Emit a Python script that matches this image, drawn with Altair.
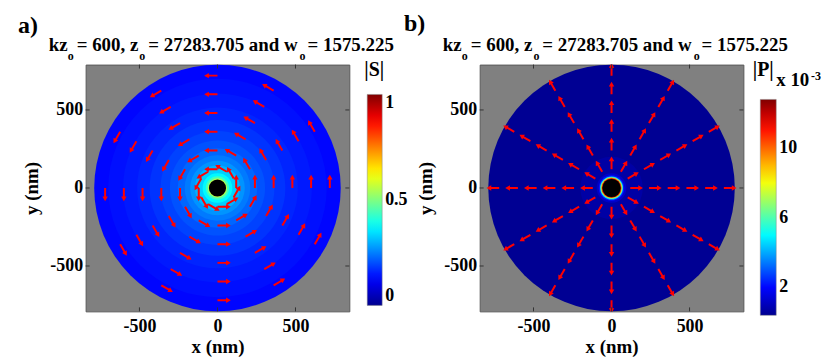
import math
import altair as alt
import pandas as pd

FONT = "Liberation Serif"

# ---------------- data ----------------
ring_radii = [120, 240, 360, 480, 600, 720]          # arrow rings (nm)
arrow_angles = [0, 30, 60, 90, 120, 150, 180, 210, 240, 270, 300, 330]  # deg
arrow_len_a = 88      # nm, tangential arrows (|S| panel)
arrow_len_b = 84      # nm, radial arrows (|P| panel)
core_radius_a = [55]  # black core (nm)
core_radius_b = [58]

# |S| panel: ring outer radius (nm) and value
s_radii = [790, 700, 605, 515, 435, 365, 305, 255, 210, 175, 145, 120, 95, 75, 62]
s_values = [0.13, 0.14, 0.15, 0.16, 0.175, 0.19, 0.205, 0.225, 0.245, 0.27, 0.30, 0.33, 0.37, 0.44, 0.55]

# |P| panel (x 1e-3)
p_radii = [790, 200, 95, 82, 74, 69, 65, 61]
p_values = [0.45, 0.7, 1.2, 2.2, 4.5, 7.0, 10.0, 12.5]

tick_values = [-500, 0, 500]
s_legend_values = [0, 0.5, 1]
p_legend_values = [2, 6, 10]
s_domain = [0, 1]
p_domain = [0.4, 12.8]

jet_fracs = [0, 0.125, 0.375, 0.625, 0.875, 1]
jet_colors = ["#00008f", "#0000ff", "#00ffff", "#ffff00", "#ff0000", "#800000"]

# ---------------- layout ----------------
W, H = 265, 248
XMAX = 845
YMAX = XMAX * H / W
PX = (W / 2) / XMAX          # px per nm
HEAD_PX = 2.8

xscale = alt.Scale(domain=[-XMAX, XMAX], nice=False, zero=False)
yscale = alt.Scale(domain=[-YMAX, YMAX], nice=False, zero=False)
rscale = alt.Scale(type="linear", domain=[0, XMAX], range=[0, W / 2], zero=True, nice=False)

xaxis = alt.Axis(values=tick_values, title="x (nm)", grid=False, ticks=False, domain=False,
                 labelExpr="'' + datum.value", labelPadding=6, titlePadding=2,
                 labelFont=FONT, labelFontSize=18, labelFontWeight="bold", labelColor="black",
                 titleFont=FONT, titleFontSize=19, titleFontWeight="bold", titleColor="black")
yaxis = alt.Axis(values=tick_values, title="y (nm)", grid=False, ticks=False, domain=False,
                 labelExpr="'' + datum.value", labelPadding=3, titlePadding=8,
                 labelFont=FONT, labelFontSize=18, labelFontWeight="bold", labelColor="black",
                 titleFont=FONT, titleFontSize=19, titleFontWeight="bold", titleColor="black")


def X(f):
    return alt.X(f, type="quantitative", scale=xscale, axis=xaxis)


def Y(f):
    return alt.Y(f, type="quantitative", scale=yscale, axis=yaxis)


def arrows(length, tangential):
    rows = []
    for r in ring_radii:
        for a in arrow_angles:
            th = math.radians(a)
            phi = th + (math.pi / 2 if tangential else 0.0)
            ux, uy = math.cos(phi), math.sin(phi)
            x0, y0 = r * math.cos(th), r * math.sin(th)
            back = HEAD_PX / PX
            rows.append(dict(
                x0=x0, y0=y0,
                x1=x0 + (length - 1.2 * back) * ux, y1=y0 + (length - 1.2 * back) * uy,
                hx=x0 + (length - back) * ux, hy=y0 + (length - back) * uy,
                ang=(math.degrees(math.atan2(ux, uy)) + 360) % 360))
    return pd.DataFrame(rows)


def text(t, x, y, size=19, align="left", baseline="alphabetic"):
    return alt.Chart(pd.DataFrame({"t": [t]})).mark_text(
        font=FONT, fontSize=size, fontWeight="bold", color="black",
        align=align, baseline=baseline).encode(
        x=alt.value(x), y=alt.value(y), text="t:N")


def title_layers():
    return [
        text("kz", -37, -14),
        text("o", -18, -5, size=12),
        text("= 600, z", -9, -14),
        text("o", 54, -5, size=12),
        text("= 27283.705 and w", 63, -14),
        text("o", 215, -5, size=12),
        text("= 1575.225", 223, -14),
    ]


def tick_layers():
    tdf = pd.DataFrame({"t": tick_values})
    base = alt.Chart(tdf).mark_rule(color="#333333", strokeWidth=1)
    return [
        base.encode(x=X("t"), y=alt.value(H), y2=alt.value(H - 4)),
        base.encode(x=X("t"), y=alt.value(0), y2=alt.value(4)),
        base.encode(y=Y("t"), x=alt.value(0), x2=alt.value(4)),
        base.encode(y=Y("t"), x=alt.value(W), x2=alt.value(W - 4)),
    ]


def panel(radii, values, domain, core, legend_vals, legend_x, legend_y, glen, gthick,
          arrow_df, extra_texts):
    stops = [domain[0] + f * (domain[1] - domain[0]) for f in jet_fracs]
    cscale = alt.Scale(domain=stops, range=jet_colors, clamp=True, interpolate="rgb")
    rings = alt.Chart(pd.DataFrame({"r": radii, "v": values})).mark_arc(
        theta=0, theta2=2 * math.pi, opacity=1, strokeWidth=0).encode(
        radius=alt.Radius("r:Q", scale=rscale, stack=None),
        color=alt.Color("v:Q", scale=cscale, legend=alt.Legend(
            orient="none", legendX=legend_x, legendY=legend_y, direction="vertical",
            gradientLength=glen, gradientThickness=gthick, title=None,
            values=legend_vals, format="~g", labelFont=FONT, labelFontSize=18,
            labelFontWeight="bold", labelColor="black", labelOffset=3,
            gradientStrokeColor="#888888", gradientStrokeWidth=0.5)))
    core_l = alt.Chart(pd.DataFrame({"r": core})).mark_arc(
        theta=0, theta2=2 * math.pi, color="black", opacity=1).encode(
        radius=alt.Radius("r:Q", scale=rscale, stack=None))
    shafts = alt.Chart(arrow_df).mark_rule(color="#ff0000", strokeWidth=2, clip=True).encode(
        x=X("x0"), y=Y("y0"), x2="x1", y2="y1")
    heads = alt.Chart(arrow_df).mark_point(
        shape="triangle-up", filled=True, color="#ff0000", size=30, opacity=1,
        clip=True).encode(
        x=X("hx"), y=Y("hy"), angle=alt.Angle("ang:Q", scale=None))
    layers = [rings, core_l, shafts, heads] + tick_layers() + title_layers() + extra_texts
    return alt.layer(*layers).properties(width=W, height=H)


pa = panel(s_radii, s_values, s_domain, core_radius_a, s_legend_values, 283, 30, 212, 15,
           arrows(arrow_len_a, True),
           [text("a)", -68, -32, size=24), text("|S|", 290, 11, size=20, align="center")])
pb = panel(p_radii, p_values, p_domain, core_radius_b, p_legend_values, 282, 35, 217, 16,
           arrows(arrow_len_b, False),
           [text("b)", -76, -34, size=24), text("|P|", 285, 11, size=20, align="center"),
            text("x 10", 298, 22, size=19), text("-3", 333, 15, size=12)])

chart = alt.hconcat(pa, pb, spacing=131, bounds="flush").resolve_scale(
    color="independent", radius="independent", x="independent", y="independent",
    angle="independent").resolve_legend(color="independent").properties(
    padding={"left": 9, "top": 2, "right": 0, "bottom": 0}).configure_view(
    fill="#808080", stroke="#5a5a5a", strokeWidth=1).configure_axis(
    labelFont=FONT, titleFont=FONT).configure_legend(labelFont=FONT)

chart.save("out.html", embed_options={"renderer": "svg", "actions": False})
